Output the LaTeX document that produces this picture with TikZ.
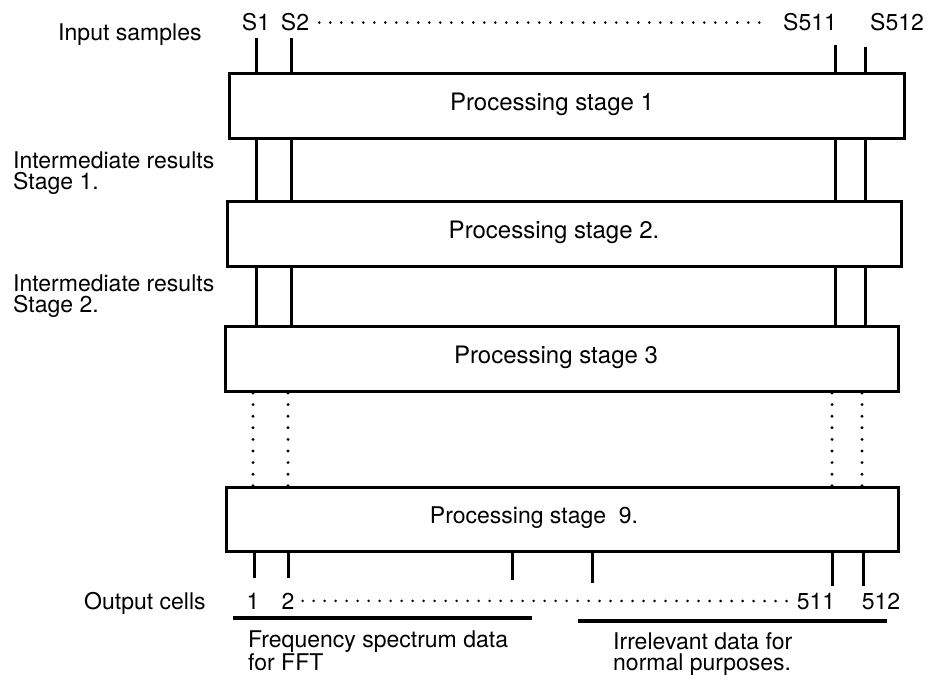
\documentclass[tikz,border=0pt]{standalone}
\usepackage{fontspec}
\setmainfont{TeX Gyre Heros}
\usetikzlibrary{positioning}
\tikzset{
  stagebox/.style={draw, line width=3pt, inner sep=0pt, anchor=north west, minimum height=65pt},
  stagetext/.style={inner sep=0pt, font=\fontsize{24}{24}\selectfont},
  lbl/.style={inner sep=0pt, font=\fontsize{23}{21}\selectfont},
  wire/.style={line width=3pt},
  dotcol/.style={line width=3.2pt, line cap=round, dash pattern=on 0pt off 11.6pt},
  dotrow/.style={line width=2.8pt, line cap=round, dash pattern=on 0pt off 11pt},
  underbar/.style={line width=4pt},
}
\begin{document}
\begin{tikzpicture}[x=1pt,y=-1pt]
  \useasboundingbox (0,0) rectangle (941,676);
  % processing stages
  \node[stagebox, minimum width=675pt] (p1) at (228,72) {};
  \node[stagebox, minimum width=674pt] (p2) at (226,200) {};
  \node[stagebox, minimum width=673pt] (p3) at (224,325) {};
  \node[stagebox, minimum width=672pt, minimum height=64pt] (p9) at (225,486) {};
  \node[stagetext] (t1) at (552,104) {Processing stage 1};
  \node[stagetext] (t2) at (554,232) {Processing stage 2.};
  \node[stagetext] (t3) at (556,357) {Processing stage 3};
  \node[stagetext, font=\fontsize{23}{23}\selectfont] (t9) at (534,518) {Processing stage\ \ 9.};
  % input samples
  \node[lbl, anchor=base west] (insamp) at (58,41) {Input samples};
  \node[lbl, anchor=base] (s1) at (256,31) {S1};
  \node[lbl, anchor=base] (s2) at (295,31) {S2};
  \node[lbl, anchor=base] (s511) at (810,31) {S511};
  \node[lbl, anchor=base] (s512) at (897,31) {S512};
  \draw[dotrow, shorten <=10pt, shorten >=18pt] (s2.east) -- (s511.west);
  % signal columns through the stages
  \foreach \n/\x/\t in {1/256/38, 2/291/38, 511/835/45, 512/865/47} {
    \coordinate (in\n) at (\x,\t);
    \draw[wire] (in\n) -- (in\n |- p1.north);
    \draw[wire] (in\n |- p1.south) -- (in\n |- p2.north);
    \draw[wire] (in\n |- p2.south) -- (in\n |- p3.north);
    \draw[dotcol] ([xshift=-3pt]in\n |- p3.south) -- ([xshift=-3pt]in\n |- p9.north);
  }
  % intermediate results
  \node[lbl, anchor=north west, align=left] (ir1) at (13,152) {Intermediate results\\Stage 1.};
  \node[lbl, anchor=north west, align=left] (ir2) at (13,275) {Intermediate results\\Stage 2.};
  % output cells
  \foreach \n/\x/\b in {1/254/578, 2/288/578, a/512/580, b/592/583, 511/832/586, 512/863/586} {
    \coordinate (out\n) at (\x,\b);
    \draw[wire] (out\n |- p9.south) -- (out\n);
  }
  \node[lbl, anchor=base west] (outc) at (84,609) {Output cells};
  \node[lbl, anchor=base] (o1) at (253,609) {1};
  \node[lbl, anchor=base] (o2) at (288,609) {2};
  \node[lbl, anchor=base] (o511) at (816,609) {511};
  \node[lbl, anchor=base] (o512) at (881,609) {512};
  \draw[dotrow, shorten <=8pt, shorten >=4pt] (o2.east) -- (o511.west);
  \draw[underbar] (233,618) -- (532,618);
  \draw[underbar] (578,621) -- (887,621);
  \node[lbl, anchor=north west, align=left] (freq) at (248,631) {Frequency spectrum data\\for FFT};
  \node[lbl, anchor=north west, align=left] (irr) at (613,632) {Irrelevant data for\\normal purposes.};
\end{tikzpicture}
\end{document}
